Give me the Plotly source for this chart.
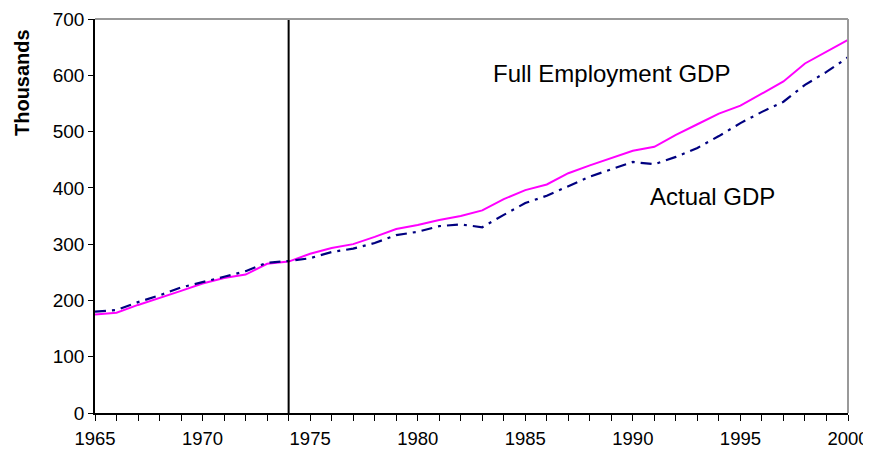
import plotly.graph_objects as go

years = list(range(1965, 2001))
full_employment_gdp = [175, 178, 192, 204, 217, 230, 240, 246, 265, 269,
                       283, 293, 300, 313, 327, 334, 343, 350, 360, 380,
                       396, 406, 426, 440, 453, 466, 473, 494, 513, 532,
                       546, 567, 589, 621, 642, 663]
actual_gdp = [180, 183, 197, 209, 223, 232, 242, 252, 267, 270,
              275, 286, 292, 302, 316, 322, 332, 335, 330, 352,
              373, 386, 403, 420, 433, 446, 442, 455, 471, 492,
              515, 535, 553, 583, 606, 632]
divider_year = 1974
y_ticks = [0, 100, 200, 300, 400, 500, 600, 700]
x_ticks = [1965, 1970, 1975, 1980, 1985, 1990, 1995, 2000]

font = "Liberation Sans, Arial, sans-serif"

fig = go.Figure()
fig.add_trace(go.Scatter(x=years, y=full_employment_gdp, mode="lines",
                         line=dict(color="#FF00FF", width=2), name="Full Employment GDP"))
fig.add_trace(go.Scatter(x=years, y=actual_gdp, mode="lines",
                         line=dict(color="#000080", width=2.2, dash="11px,6px,3px,6px"),
                         name="Actual GDP"))
fig.add_trace(go.Scatter(x=[divider_year, divider_year], y=[0, 700], mode="lines",
                         line=dict(color="black", width=2), showlegend=False))

fig.add_annotation(x=1989.0, y=604, text="Full Employment GDP", showarrow=False,
                   xanchor="center", font=dict(family=font, size=24, color="black"))
fig.add_annotation(x=1993.7, y=385, text="Actual GDP", showarrow=False,
                   xanchor="center", font=dict(family=font, size=24, color="black"))
fig.add_annotation(xref="paper", x=-0.097, y=588, text="<b>Thousands</b>", showarrow=False,
                   xanchor="center", yanchor="middle",
                   textangle=-90, font=dict(family=font, size=20, color="black"))

# gray top and right borders
fig.add_shape(type="line", xref="paper", yref="paper", x0=0, x1=1, y0=1, y1=1,
              line=dict(color="#999999", width=2))
fig.add_shape(type="line", xref="paper", yref="paper", x0=1, x1=1, y0=0, y1=1,
              line=dict(color="#999999", width=2))

# the page body has an 8px margin, so the figure is sized/offset to compensate
fig.update_layout(
    width=863, height=444,
    margin=dict(l=87, r=23, t=11, b=39, autoexpand=False),
    plot_bgcolor="white", paper_bgcolor="white",
    showlegend=False,
    font=dict(family=font, size=19, color="black"),
    xaxis=dict(range=[1965, 2000], tickvals=x_ticks, ticks="outside", ticklen=6,
               tickcolor="black", showline=True, linecolor="black", linewidth=1.5,
               showgrid=False, zeroline=False, automargin=False, ticklabelstandoff=2,
               minor=dict(dtick=1, tick0=1965, ticks="outside", ticklen=6, tickcolor="black"),
               tickfont=dict(family=font, size=18.5)),
    yaxis=dict(range=[0, 700], tickvals=y_ticks, ticks="outside", ticklen=5,
               tickcolor="black", showline=True, linecolor="black", linewidth=1.5,
               showgrid=False, zeroline=False, automargin=False,
               tickfont=dict(family=font, size=19)),
)

fig.write_html("out.html")
